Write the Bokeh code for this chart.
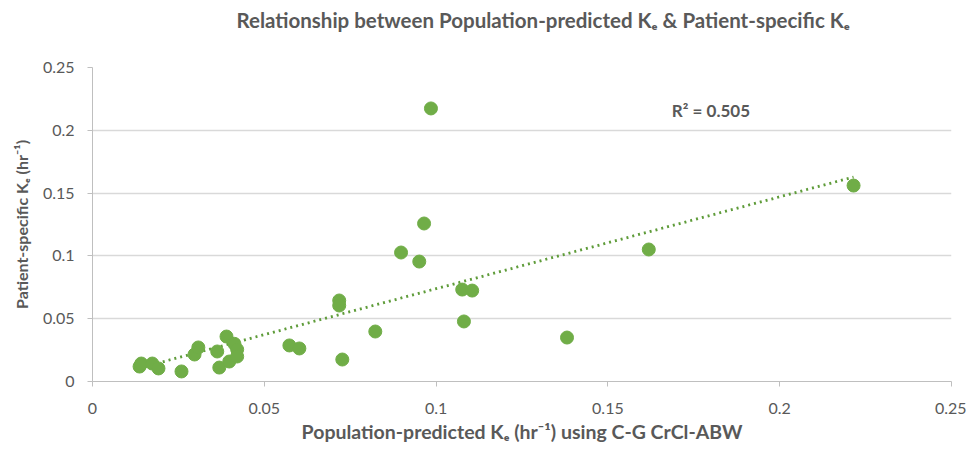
import numpy as np
from bokeh.plotting import figure
from bokeh.models import Range1d, FixedTicker, Label, Title
from bokeh.embed import file_html
from bokeh.resources import INLINE

# ---- data ----
pop_ke = [0.0137, 0.0142, 0.0174, 0.0192, 0.0259, 0.0297, 0.0308, 0.0363, 0.0390, 0.0369,
          0.0398, 0.0413, 0.0421, 0.0421, 0.0573, 0.0602, 0.0718, 0.0718, 0.0727, 0.0823,
          0.0898, 0.0951, 0.0965, 0.0985, 0.1076, 0.1105, 0.1081, 0.1381, 0.1619, 0.2215]
pat_ke = [0.0119, 0.0143, 0.0143, 0.0104, 0.0080, 0.0215, 0.0271, 0.0239, 0.0358, 0.0111,
          0.0159, 0.0300, 0.0255, 0.0199, 0.0287, 0.0263, 0.0645, 0.0605, 0.0175, 0.0398,
          0.1027, 0.0955, 0.1258, 0.2174, 0.0732, 0.0724, 0.0478, 0.0350, 0.1051, 0.1560]
tick_values = [0, 0.05, 0.1, 0.15, 0.2, 0.25]
tick_labels = ["0", "0.05", "0.1", "0.15", "0.2", "0.25"]
r2_text = "R\u00b2 = 0.505"
title_text = "Relationship between Population-predicted K\u2091 & Patient-specific K\u2091"
x_label = "Population-predicted K\u2091 (hr\u207b\u00b9) using C-G CrCl-ABW"
y_label = "Patient-specific K\u2091 (hr\u207b\u00b9)"

FONT = "Lato"
GREY = "#595959"
GREEN = "#70AD47"

p = figure(width=966, height=447, output_backend="svg", toolbar_location=None,
           x_range=Range1d(0, 0.25), y_range=Range1d(0, 0.25),
           min_border_left=92, min_border_right=15, min_border_top=67, min_border_bottom=66)
p.outline_line_color = None
p.background_fill_color = "white"
p.border_fill_color = "white"

# spacer panel between the frame and the title (closest to the frame)
p.add_layout(Title(text=" ", text_font_size="1px", standoff=31), "above")
# chart title
p.add_layout(Title(text=title_text, text_font=FONT, text_font_size="20.5px",
                   text_font_style="bold", text_color=GREY, align="left",
                   offset=144, standoff=4), "above")

for ax in (p.xaxis, p.yaxis):
    ax.ticker = FixedTicker(ticks=tick_values)
    ax.major_label_overrides = {v: s for v, s in zip(tick_values, tick_labels)}
    ax.axis_line_color = "#bfbfbf"
    ax.major_tick_line_color = "#bfbfbf"
    ax.major_tick_out = 5
    ax.major_tick_in = 0
    ax.minor_tick_line_color = None
    ax.major_label_text_font = FONT
    ax.major_label_text_font_size = "16px"
    ax.major_label_text_color = GREY
    ax.axis_label_text_font = FONT
    ax.axis_label_text_font_style = "bold"
    ax.axis_label_text_color = GREY

p.xaxis.axis_label = x_label
p.yaxis.axis_label = y_label
p.xaxis.axis_label_text_font_size = "19.5px"
p.yaxis.axis_label_text_font_size = "16px"
p.xaxis.major_label_standoff = 16
p.yaxis.major_label_standoff = 13
p.xaxis.axis_label_standoff = 3
p.yaxis.axis_label_standoff = 9

p.xgrid.grid_line_color = None
p.ygrid.grid_line_color = "#d9d9d9"
p.ygrid.grid_line_width = 1.3
p.ygrid.ticker = FixedTicker(ticks=tick_values[1:])

# linear trendline fitted from the data
xs = np.array(pop_ke)
ys = np.array(pat_ke)
slope, intercept = np.polyfit(xs, ys, 1)
tx = [xs.min(), xs.max()]
ty = [slope * v + intercept for v in tx]
p.line(tx, ty, line_color="#5f9c3a", line_width=2.8, line_dash="2 4", line_cap="butt")

p.scatter(pop_ke, pat_ke, size=13, fill_color=GREEN, line_color=GREEN, marker="circle")

p.add_layout(Label(x=0.1686, y=0.2155, text=r2_text, text_font=FONT, text_font_size="17px",
                   text_font_style="bold", text_color=GREY, text_baseline="middle"))

open("out.html", "w").write(file_html(p, INLINE))
